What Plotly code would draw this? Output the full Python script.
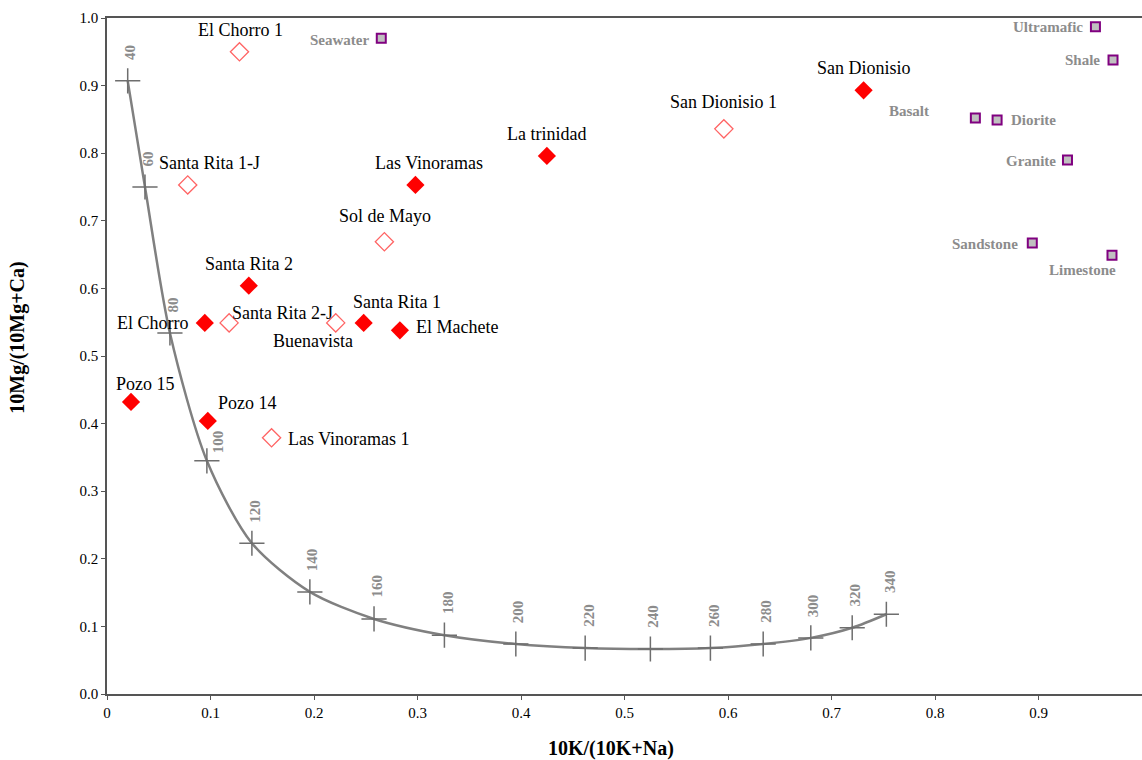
import plotly.graph_objects as go

# ---------------- data ----------------
filled_names = ["San Dionisio", "La trinidad", "Las Vinoramas", "Santa Rita 2", "El Chorro",
                "Santa Rita 1", "El Machete", "Pozo 15", "Pozo 14"]
filled_x = [0.731, 0.425, 0.298, 0.137, 0.0945, 0.248, 0.283, 0.0232, 0.0974]
filled_y = [0.893, 0.796, 0.753, 0.604, 0.549, 0.549, 0.538, 0.432, 0.404]

open_names = ["El Chorro 1", "Santa Rita 1-J", "Sol de Mayo", "San Dionisio 1", "Santa Rita 2-J",
              "Buenavista", "Las Vinoramas 1"]
open_x = [0.128, 0.078, 0.268, 0.596, 0.118, 0.221, 0.159]
open_y = [0.950, 0.753, 0.669, 0.836, 0.549, 0.549, 0.379]

rock_names = ["Seawater", "Ultramafic", "Shale", "Basalt", "Diorite", "Granite", "Sandstone", "Limestone"]
rock_x = [0.265, 0.955, 0.972, 0.839, 0.860, 0.928, 0.894, 0.971]
rock_y = [0.970, 0.987, 0.938, 0.852, 0.849, 0.790, 0.667, 0.649]

temp_labels = ["40", "60", "80", "100", "120", "140", "160", "180", "200", "220",
               "240", "260", "280", "300", "320", "340"]
curve_x = [0.020, 0.0367, 0.0608, 0.0965, 0.140, 0.196, 0.258, 0.326, 0.395, 0.462,
           0.525, 0.583, 0.634, 0.680, 0.720, 0.753]
curve_y = [0.907, 0.750, 0.534, 0.345, 0.223, 0.151, 0.111, 0.087, 0.074, 0.068,
           0.0666, 0.068, 0.074, 0.083, 0.098, 0.118]

x_tickvals = [0, 0.1, 0.2, 0.3, 0.4, 0.5, 0.6, 0.7, 0.8, 0.9]
x_ticktext = ["0", "0.1", "0.2", "0.3", "0.4", "0.5", "0.6", "0.7", "0.8", "0.9"]
y_tickvals = [0.0, 0.1, 0.2, 0.3, 0.4, 0.5, 0.6, 0.7, 0.8, 0.9, 1.0]

# ---------------- label placement (style) ----------------
# (xanchor, yanchor, xshift, yshift)
filled_pos = {
    "San Dionisio": ("center", "bottom", 0, 10),
    "La trinidad": ("center", "bottom", 0, 10),
    "Las Vinoramas": ("center", "bottom", 14, 10),
    "Santa Rita 2": ("center", "bottom", 0, 10),
    "El Chorro": ("right", "middle", -14, 0),
    "Santa Rita 1": ("left", "bottom", -13, 9),
    "El Machete": ("left", "middle", 14, 3),
    "Pozo 15": ("center", "bottom", 14, 6),
    "Pozo 14": ("left", "bottom", 8, 6),
}
open_pos = {
    "El Chorro 1": ("center", "bottom", 1, 10),
    "Santa Rita 1-J": ("center", "bottom", 22, 10),
    "Sol de Mayo": ("center", "bottom", 1, 14),
    "San Dionisio 1": ("center", "bottom", 0, 15),
    "Santa Rita 2-J": ("left", "middle", 1, 10),
    "Buenavista": ("center", "middle", -23, -18),
    "Las Vinoramas 1": ("left", "middle", 14, -1),
}
rock_pos = {
    "Seawater": ("right", "middle", -10, -2),
    "Ultramafic": ("right", "middle", -10, 0),
    "Shale": ("right", "middle", -11, 0),
    "Basalt": ("right", "middle", -44, 7),
    "Diorite": ("left", "middle", 12, 0),
    "Granite": ("right", "middle", -9, -1),
    "Sandstone": ("right", "middle", -12, -1),
    "Limestone": ("center", "top", -29, -5),
}
temp_shift_default = (3, 19)
temp_shift_override = {"100": (11, 6)}

SERIF = "Liberation Serif"

fig = go.Figure()

# temperature curve
fig.add_trace(go.Scatter(
    x=curve_x, y=curve_y, mode="lines+markers",
    line=dict(color="#808080", width=2.5, shape="spline", smoothing=0.8),
    marker=dict(symbol="cross-thin", size=18, line=dict(color="#6e6e6e", width=1.5)),
    hoverinfo="skip",
))

fig.add_trace(go.Scatter(
    x=open_x, y=open_y, mode="markers",
    marker=dict(symbol="diamond-open", size=14, color="#ff6464", line=dict(width=1.3)),
    text=open_names,
))
fig.add_trace(go.Scatter(
    x=filled_x, y=filled_y, mode="markers",
    marker=dict(symbol="diamond", size=14, color="#ff0000", line=dict(width=0)),
    text=filled_names,
))
fig.add_trace(go.Scatter(
    x=rock_x, y=rock_y, mode="markers",
    marker=dict(symbol="square", size=9, color="#c0c0c0", line=dict(color="#800080", width=2)),
    text=rock_names,
))

annotations = []
for names, xs, ys, pos in [(filled_names, filled_x, filled_y, filled_pos),
                           (open_names, open_x, open_y, open_pos)]:
    for n, x, y in zip(names, xs, ys):
        xa, ya, dx, dy = pos[n]
        annotations.append(dict(x=x, y=y, text=n, showarrow=False, xanchor=xa, yanchor=ya,
                                xshift=dx, yshift=dy,
                                font=dict(family=SERIF, size=18, color="#000000")))
for n, x, y in zip(rock_names, rock_x, rock_y):
    xa, ya, dx, dy = rock_pos[n]
    annotations.append(dict(x=x, y=y, text="<b>%s</b>" % n, showarrow=False, xanchor=xa, yanchor=ya,
                            xshift=dx, yshift=dy,
                            font=dict(family=SERIF, size=15, color="#8c8c8c")))
for t, x, y in zip(temp_labels, curve_x, curve_y):
    dx, dy = temp_shift_override.get(t, temp_shift_default)
    annotations.append(dict(x=x, y=y, text="<b>%s</b>" % t, showarrow=False, textangle=-90,
                            xanchor="center", yanchor="bottom", xshift=dx, yshift=dy,
                            font=dict(family=SERIF, size=15, color="#8c8c8c")))

# axis titles
annotations.append(dict(xref="paper", yref="paper", x=0.487, y=0, yshift=-54, yanchor="middle",
                        text="<b>10K/(10K+Na)</b>", showarrow=False,
                        font=dict(family=SERIF, size=20, color="#000000")))
annotations.append(dict(xref="paper", yref="paper", x=0, xshift=-89, y=0.527, xanchor="center",
                        yanchor="middle",
                        text="<b>10Mg/(10Mg+Ca)</b>", showarrow=False, textangle=-90,
                        font=dict(family=SERIF, size=20, color="#000000")))

fig.update_layout(
    width=1142, height=760,
    margin=dict(l=107, r=0, t=18, b=66),
    paper_bgcolor="white", plot_bgcolor="white",
    showlegend=False,
    annotations=annotations,
    xaxis=dict(range=[0, 1.0], tickvals=x_tickvals, ticktext=x_ticktext,
               showgrid=False, zeroline=False, showline=True, mirror=True,
               linecolor="#555555", linewidth=1.5, ticks="outside", ticklen=4,
               tickcolor="#555555", tickfont=dict(family=SERIF, size=15, color="#000000")),
    yaxis=dict(range=[0, 1.0], tickvals=y_tickvals, tickformat=".1f",
               showgrid=False, zeroline=False, showline=True,
               linecolor="#555555", linewidth=1.5, ticks="outside", ticklen=4,
               tickcolor="#555555", tickfont=dict(family=SERIF, size=15, color="#000000")),
)

fig.write_html("out.html")
